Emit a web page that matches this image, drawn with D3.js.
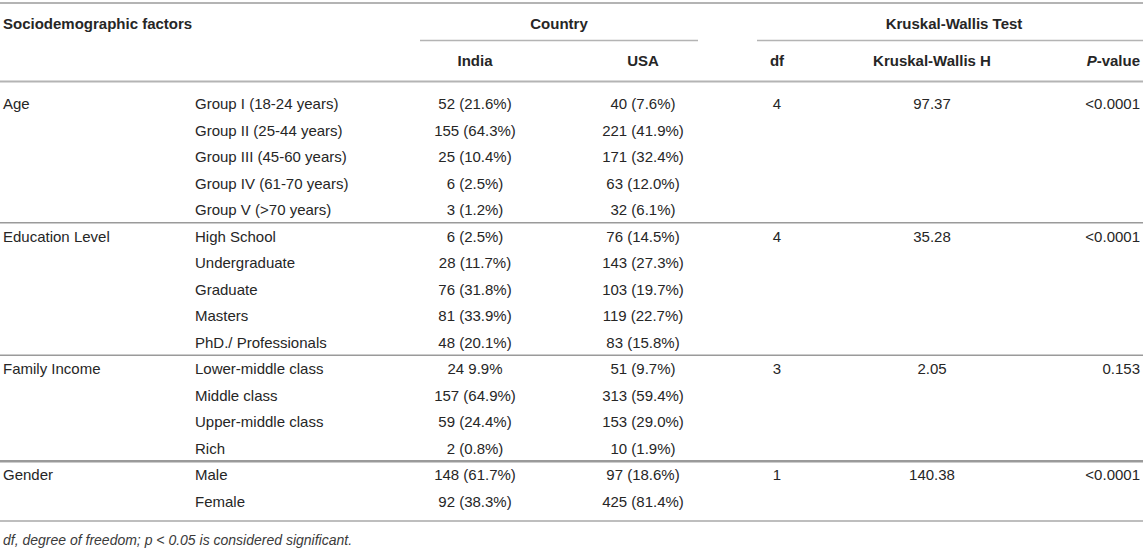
<!DOCTYPE html>
<html>
<head>
<meta charset="utf-8">
<script src="https://cdn.jsdelivr.net/npm/d3@7/dist/d3.min.js"></script>
<style>
  body { margin: 0; background: #fff; }
  svg { display: block; font-family: "Liberation Sans", Arial, Helvetica, sans-serif; }
  text { fill: #262626; font-size: 15px; }
  .head { font-weight: bold; }
  .note { font-style: italic; fill: #3a3a3a; font-size: 14px; }
</style>
</head>
<body>
<svg id="table"></svg>
<script>
// Table contents
const factors = ['Age', 'Education Level', 'Family Income', 'Gender'];
const groupSizes = [5, 5, 4, 2];
const subgroups = [
  'Group I (18-24 years)', 'Group II (25-44 years)', 'Group III (45-60 years)',
  'Group IV (61-70 years)', 'Group V (>70 years)',
  'High School', 'Undergraduate', 'Graduate', 'Masters', 'PhD./ Professionals',
  'Lower-middle class', 'Middle class', 'Upper-middle class', 'Rich',
  'Male', 'Female'
];
const india = [
  '52 (21.6%)', '155 (64.3%)', '25 (10.4%)', '6 (2.5%)', '3 (1.2%)',
  '6 (2.5%)', '28 (11.7%)', '76 (31.8%)', '81 (33.9%)', '48 (20.1%)',
  '24 9.9%', '157 (64.9%)', '59 (24.4%)', '2 (0.8%)',
  '148 (61.7%)', '92 (38.3%)'
];
const usa = [
  '40 (7.6%)', '221 (41.9%)', '171 (32.4%)', '63 (12.0%)', '32 (6.1%)',
  '76 (14.5%)', '143 (27.3%)', '103 (19.7%)', '119 (22.7%)', '83 (15.8%)',
  '51 (9.7%)', '313 (59.4%)', '153 (29.0%)', '10 (1.9%)',
  '97 (18.6%)', '425 (81.4%)'
];
const dfValues = ['4', '4', '3', '1'];
const hValues = ['97.37', '35.28', '2.05', '140.38'];
const pValues = ['<0.0001', '<0.0001', '0.153', '<0.0001'];
const footnote = 'df, degree of freedom; p < 0.05 is considered significant.';

const width = 1143, height = 550;
const svg = d3.select('#table').attr('width', width).attr('height', height);

// Column positions and alignment
const columns = ['factor', 'sub', 'india', 'usa', 'df', 'h', 'p'];
const colX = d3.scaleOrdinal().domain(columns).range([3, 195, 475, 643, 777, 932, 1140]);
const colAnchor = d3.scaleOrdinal().domain(columns)
  .range(['start', 'start', 'middle', 'middle', 'middle', 'middle', 'end']);

// Row centres
const y = d3.scaleLinear().domain([0, subgroups.length - 1]).range([103.5, 501]);
const baseline = 5.5;

// start row index of every factor group
const groupStart = groupSizes.map((n, i) => d3.sum(groupSizes.slice(0, i)));

function rule(y0, x1, x2, w, c) {
  svg.append('line')
    .attr('x1', x1).attr('x2', x2)
    .attr('y1', y0).attr('y2', y0)
    .attr('stroke', c || '#aaa')
    .attr('stroke-width', w);
}

// Horizontal rules
rule(3, 0, width, 2, '#b4b4b4');
rule(40.5, 420, 698, 1.3, '#b4b4b4');
rule(40.5, 757, width, 1.3, '#b4b4b4');
rule(81.5, 0, width, 2, '#b4b4b4');
groupStart.slice(1).forEach((s, i) => {
  rule((y(s - 1) + y(s)) / 2, 0, width, i === 2 ? 2.5 : 1.5, '#9a9a9a');
});
rule(521, 0, width, 1.5, '#a8a8a8');

// Header
const head = svg.append('g').attr('class', 'head');
head.append('text').attr('x', colX('factor')).attr('y', 23 + baseline)
  .text('Sociodemographic factors');
head.append('text').attr('x', 559).attr('y', 23 + baseline)
  .attr('text-anchor', 'middle').text('Country');
head.append('text').attr('x', 954).attr('y', 23 + baseline)
  .attr('text-anchor', 'middle').text('Kruskal-Wallis Test');

const sub = [['india', 'India'], ['usa', 'USA'], ['df', 'df'], ['h', 'Kruskal-Wallis H']];
head.selectAll('text.sub')
  .data(sub)
  .join('text')
  .attr('class', 'sub')
  .attr('x', d => colX(d[0]))
  .attr('y', 60 + baseline)
  .attr('text-anchor', d => colAnchor(d[0]))
  .text(d => d[1]);

const pHead = head.append('text')
  .attr('x', colX('p')).attr('y', 60 + baseline)
  .attr('text-anchor', 'end');
pHead.append('tspan').attr('font-style', 'italic').text('P');
pHead.append('tspan').text('-value');

// Body rows
const body = svg.append('g').attr('class', 'body');

body.selectAll('text.factor')
  .data(factors)
  .join('text')
  .attr('class', 'factor')
  .attr('x', colX('factor'))
  .attr('y', (d, i) => y(groupStart[i]) + baseline)
  .text(d => d);

const rowCols = [['sub', subgroups], ['india', india], ['usa', usa]];
rowCols.forEach(([key, values]) => {
  body.selectAll('text.' + key)
    .data(values)
    .join('text')
    .attr('class', key)
    .attr('x', colX(key))
    .attr('y', (d, i) => y(i) + baseline)
    .attr('text-anchor', colAnchor(key))
    .text(d => d);
});

const testCols = [['df', dfValues], ['h', hValues], ['p', pValues]];
testCols.forEach(([key, values]) => {
  body.selectAll('text.' + key)
    .data(values)
    .join('text')
    .attr('class', key)
    .attr('x', colX(key))
    .attr('y', (d, i) => y(groupStart[i]) + baseline)
    .attr('text-anchor', colAnchor(key))
    .text(d => d);
});

// Footnote
svg.append('text')
  .attr('class', 'note')
  .attr('x', 3)
  .attr('y', 540 + 5)
  .text(footnote);
</script>
</body>
</html>
